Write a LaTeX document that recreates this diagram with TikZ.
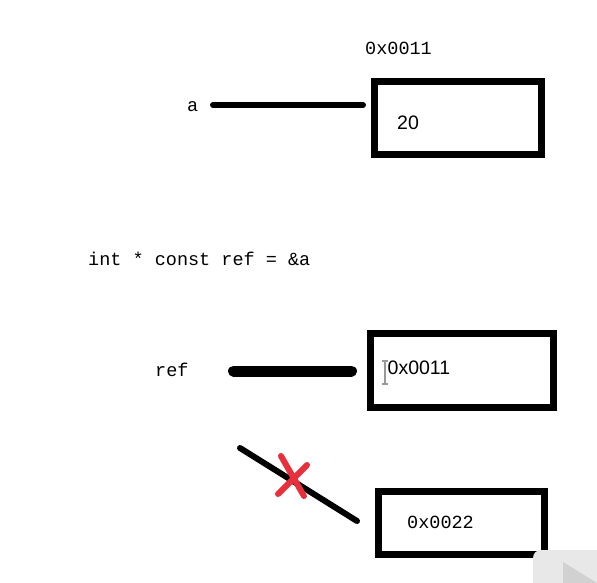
\documentclass[tikz,border=0pt]{standalone}
\usepackage{fontspec}
\setmainfont{Liberation Sans}
\newfontfamily\codefont{Liberation Mono}
\definecolor{crossred}{RGB}{232,48,60}
\begin{document}
\begin{tikzpicture}[x=1pt,y=-1pt,
  membox/.style={draw=black,line width=7pt,minimum width=#1,inner sep=0pt,outer sep=0pt},
  code/.style={font=\codefont\fontsize{18.5}{20}\selectfont,inner sep=0pt,anchor=west},
  val/.style={font=\fontsize{19.5}{22}\selectfont,inner sep=0pt,anchor=west},
  link/.style={line width=#1,line cap=round},
  cross/.style={draw=crossred,line width=6pt,line cap=round}]
\useasboundingbox (0,0) rectangle (597,583);
\fill[white] (0,0) rectangle (597,583);
% top: variable a
\node[code] (addrA) at (365,48) {0x0011};
\node[membox=167pt,minimum height=73pt] (boxA) at (457.5,118) {};
\node[val] (valA) at (397,123) {20};
\node[code] (labA) at (187,107) {a};
\coordinate (aStart) at (213,105);
\draw[link=6pt] (aStart) -- ([xshift=-11pt]boxA.west |- aStart);
% declaration
\node[code] (decl) at (88,259) {int * const ref = \&a};
% ref
\node[code] (labRef) at (155,370) {ref};
\node[membox=183pt,minimum height=74pt] (boxB) at (461.5,370.5) {};
\node[val] (valB) at (387.5,368) {0x0011};
\coordinate (refStart) at (233.5,371);
\draw[link=11pt] (refStart) -- ([xshift=-18.5pt]boxB.west |- refStart);
% I-beam cursor
\draw[gray!80,line width=1.1pt] (382,361) -- (388,361) (385,361) -- (385,384) (382,384) -- (388,384);
% forbidden re-binding
\node[membox=166pt,minimum height=63pt] (boxC) at (461,523) {};
\node[code] (valC) at (407,522) {0x0022};
\coordinate (badStart) at (240,448);
\coordinate (badEnd) at (357,521);
\draw[link=6pt] (badStart) -- (badEnd);
\coordinate (x1) at (281,456);
\coordinate (x2) at (304,496);
\coordinate (x3) at (307,465);
\coordinate (x4) at (278,494);
\draw[cross] (x1) -- (x2);
\draw[cross] (x3) -- (x4);
% video overlay remnant
\fill[black!9,rounded corners=8pt] (533,550) rectangle (620,620);
\fill[black!18] (563,562) -- (597,583) -- (563,600) -- cycle;
\end{tikzpicture}
\end{document}
